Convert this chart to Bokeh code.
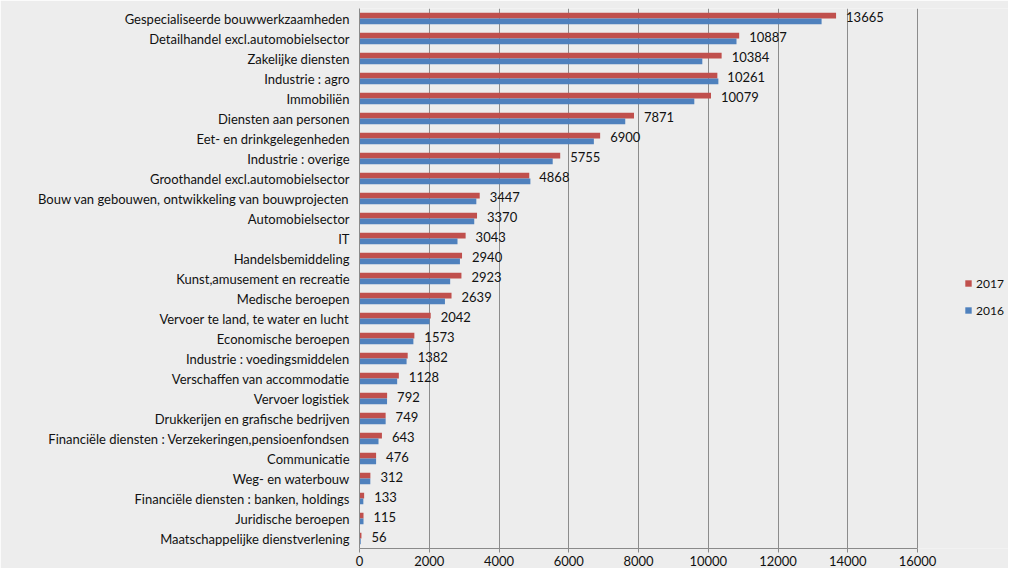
from bokeh.plotting import figure
from bokeh.models import (FactorRange, Legend, LegendItem, ColumnDataSource,
                          FixedTicker, Range1d)
from bokeh.transform import dodge
from bokeh.core.properties import value
from bokeh.embed import file_html
from bokeh.resources import INLINE

categories = [
    "Gespecialiseerde bouwwerkzaamheden",
    "Detailhandel excl.automobielsector",
    "Zakelijke diensten",
    "Industrie : agro",
    "Immobiliën",
    "Diensten aan personen",
    "Eet- en drinkgelegenheden",
    "Industrie : overige",
    "Groothandel excl.automobielsector",
    "Bouw van gebouwen, ontwikkeling van bouwprojecten",
    "Automobielsector",
    "IT",
    "Handelsbemiddeling",
    "Kunst,amusement en recreatie",
    "Medische beroepen",
    "Vervoer te land, te water en lucht",
    "Economische beroepen",
    "Industrie : voedingsmiddelen",
    "Verschaffen van accommodatie",
    "Vervoer logistiek",
    "Drukkerijen en grafische bedrijven",
    "Financiële diensten : Verzekeringen,pensioenfondsen",
    "Communicatie",
    "Weg- en waterbouw",
    "Financiële diensten : banken, holdings",
    "Juridische beroepen",
    "Maatschappelijke dienstverlening",
]
values_2017 = [13665, 10887, 10384, 10261, 10079, 7871, 6900, 5755, 4868, 3447,
               3370, 3043, 2940, 2923, 2639, 2042, 1573, 1382, 1128, 792,
               749, 643, 476, 312, 133, 115, 56]
values_2016 = [13250, 10810, 9830, 10290, 9600, 7620, 6720, 5540, 4900, 3350,
               3290, 2810, 2880, 2600, 2450, 2010, 1545, 1350, 1080, 790,
               750, 545, 476, 310, 110, 115, 35]
series_labels = ["2017", "2016"]
x_ticks = [0, 2000, 4000, 6000, 8000, 10000, 12000, 14000, 16000]
x_max = 16000

RED = "#C0504D"
BLUE = "#4F81BD"
BG = "#EDEDED"
AXIS_C = "#8a8a8a"
FONT = "Lato"

W, H = 1008, 568
LEFT = 359          # frame left (px)
AXIS_RIGHT = 917    # where the value axis ends (px)

src = ColumnDataSource(dict(cat=categories, v2017=values_2017, v2016=values_2016,
                            lbl=[str(v) for v in values_2017]))

# frame extends to the right edge so the legend can sit inside it;
# the value scale is stretched so that 0..16000 spans LEFT..AXIS_RIGHT
x_end = x_max * (W - LEFT) / (AXIS_RIGHT - LEFT)

p = figure(width=W, height=H,
           y_range=FactorRange(factors=categories[::-1], range_padding=0),
           x_range=Range1d(0, x_end),
           output_backend="svg", toolbar_location=None,
           min_border_left=LEFT, min_border_right=0,
           min_border_top=8, min_border_bottom=20)

r17 = p.hbar(y=dodge("cat", 0.145, range=p.y_range), left=0, right="v2017",
             height=0.29, fill_color=RED, line_color=None, source=src)
r16 = p.hbar(y=dodge("cat", -0.145, range=p.y_range), left=0, right="v2016",
             height=0.29, fill_color=BLUE, line_color=None, source=src)

p.text(x="v2017", y=dodge("cat", 0.08, range=p.y_range), text="lbl", source=src,
       x_offset=10, text_baseline="middle", text_align="left",
       text_font=value(FONT), text_font_size="13px", text_color="#111111")

p.background_fill_color = BG
p.border_fill_color = BG
p.outline_line_color = None

p.xaxis.ticker = FixedTicker(ticks=x_ticks)
p.xaxis.bounds = (0, x_max)
p.xaxis.axis_line_color = AXIS_C
p.xaxis.major_tick_line_color = AXIS_C
p.xaxis.major_tick_out = 4
p.xaxis.major_tick_in = 0
p.xaxis.minor_tick_line_color = None
p.xaxis.major_label_text_font = FONT
p.xaxis.major_label_text_font_size = "13px"
p.xaxis.major_label_text_color = "#111111"
p.xaxis.major_label_standoff = 3

p.yaxis.axis_line_color = AXIS_C
p.yaxis.major_tick_line_color = None
p.yaxis.major_tick_out = 0
p.yaxis.major_tick_in = 0
p.yaxis.minor_tick_line_color = None
p.yaxis.major_label_text_font = FONT
p.yaxis.major_label_text_font_size = "13px"
p.yaxis.major_label_text_color = "#111111"
p.yaxis.major_label_standoff = 10

p.xgrid.grid_line_color = "#8c8c8c"
p.ygrid.grid_line_color = None

legend = Legend(items=[LegendItem(label=series_labels[0], renderers=[r17]),
                       LegendItem(label=series_labels[1], renderers=[r16])],
                location=(605, 228), glyph_width=8, glyph_height=8,
                label_height=20, spacing=7, padding=0, margin=0,
                label_standoff=4,
                label_text_font=FONT, label_text_font_size="12px",
                label_text_color="#111111",
                background_fill_alpha=0, border_line_color=None)
p.add_layout(legend)

open("out.html", "w").write(file_html(p, INLINE))
